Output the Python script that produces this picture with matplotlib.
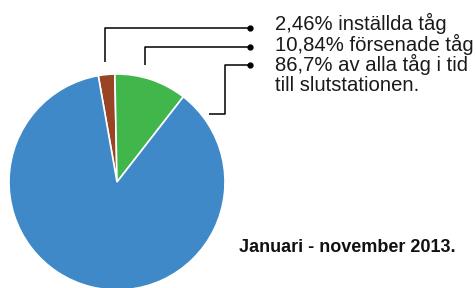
import matplotlib.pyplot as plt

labels = ["2,46% inställda tåg", "10,84% försenade tåg",
          "86,7% av alla tåg i tid\ntill slutstationen."]
values = [2.46, 10.84, 86.7]
colors = ["#9a4426", "#41b64a", "#3f89c8"]
period = "Januari - november 2013."

plt.rcParams['font.family'] = ['Liberation Sans', 'DejaVu Sans']

W, H = 476, 288
fig = plt.figure(figsize=(W / 100, H / 100), dpi=100)
ax = fig.add_axes([0, 0, 1, 1])
ax.axis('off')

cx, cy, r = 117, H - 182, 108
ax.pie(values, colors=colors, startangle=100, counterclock=False,
       center=(cx, cy), radius=r,
       wedgeprops=dict(edgecolor='white', linewidth=1.2))
ax.set_xlim(0, W)
ax.set_ylim(0, H)
ax.set_aspect('equal')

# leader lines in pixel coords (origin top-left)
leaders = [
    [(105, 62), (105, 28), (250, 28)],
    [(145, 65), (145, 47), (250, 47)],
    [(209, 114), (225, 114), (225, 65), (250, 65)],
]
for pts in leaders:
    xs = [p[0] for p in pts]
    ys = [H - p[1] for p in pts]
    ax.plot(xs, ys, color='black', lw=1.1, solid_capstyle='butt')
    ax.plot(xs[-1], ys[-1], 'o', color='black', ms=3.5)

# one text row per line, baselines 20 px apart
baseline = 30.5
for lab in labels:
    for line in lab.split("\n"):
        ax.text(275, H - baseline, line, fontsize=14.6, ha='left',
                va='baseline', color='#1a1a1a')
        baseline += 20.3

ax.text(456, H - 252, period, fontsize=13, fontweight='bold',
        ha='right', va='baseline', color='#111111')

fig.savefig("out.png", dpi=100)
